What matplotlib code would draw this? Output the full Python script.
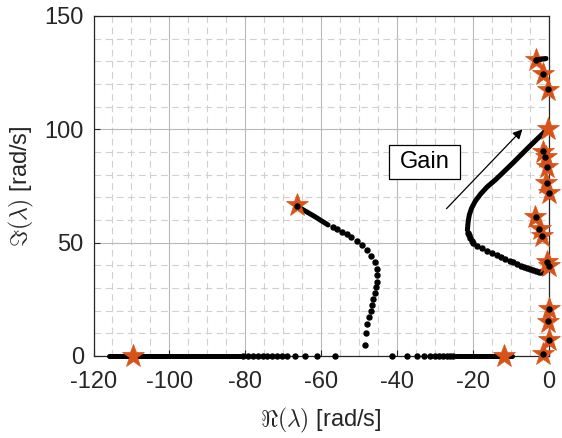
import matplotlib
matplotlib.use("Agg")
import matplotlib.pyplot as plt
from matplotlib.patches import Rectangle

plt.rcParams['font.family'] = ['Liberation Sans', 'DejaVu Sans']
plt.rcParams['mathtext.fontset'] = 'cm'
plt.rcParams['axes.unicode_minus'] = False

# ---------------- data ----------------
# real-axis branch, left part: dense run (drawn as thick path) + sparse dots
real_left_dense_x = [-115.8, -81.5]
real_left_dots_x = [-80.5, -79.2, -77.9, -76.6, -75.3, -74.2, -72.9, -71.6,
                    -70.4, -69.1, -66.9, -64.3, -61.0, -56.4]
# real-axis branch, right part
real_right_dots_x = [-41.4, -37.5, -34.9, -32.9, -31.4, -30.0, -28.9, -27.9,
                     -27.0, -26.1, -25.2]
real_right_dense_x = [-24.5, -9.8]

# complex branch leaving the real axis near -48 towards the star at (-66.5, 66)
branchB_dense_x = [-66.5, -61.7, -58.2]
branchB_dense_y = [66.2, 61.5, 57.8]
branchB_dots_x = [-57.0, -55.8, -54.6, -53.3, -52.2, -50.7, -49.3, -48.0, -46.9,
                  -45.8, -45.4, -45.3, -45.3, -45.6, -45.8, -46.3, -46.7, -47.0,
                  -47.4, -47.9, -48.2, -48.6]
branchB_dots_y = [57.0, 55.9, 54.8, 53.7, 52.4, 50.7, 49.0, 46.6, 44.1,
                  41.5, 38.4, 35.6, 32.6, 30.3, 27.7, 25.1, 22.5, 19.9,
                  17.1, 14.0, 10.3, 4.9]

# C-shaped branch ending at (0, 100)
branchC_dense_x = [-0.2, -1.1, -5.3, -9.6, -12.2, -14.2, -16.3, -18.0, -19.4,
                   -20.4, -21.0, -21.3, -21.5]
branchC_dense_y = [99.7, 99.0, 92.2, 85.0, 80.8, 77.6, 74.6, 71.5, 68.4,
                   65.2, 62.2, 59.2, 55.6]
branchC_dots_x = [-21.4, -21.2, -20.8, -20.3, -19.9, -18.9, -17.7, -16.4, -15.1,
                  -13.8, -12.6, -11.5, -10.4, -9.4, -8.4, -7.5, -6.6, -5.7,
                  -4.9, -4.1, -3.4, -2.7, -2.1]
branchC_dots_y = [54.4, 53.2, 51.9, 50.7, 49.7, 48.5, 47.5, 46.5, 45.6,
                  44.6, 43.6, 42.7, 42.0, 41.3, 40.6, 39.9, 39.4, 38.8,
                  38.4, 37.9, 37.6, 37.2, 36.9]

# short dense run at the top
top_dense_x = [-3.4, -0.8]
top_dense_y = [130.6, 131.2]

# star markers
star_x = [-109.5, -11.8, -66.5, -3.3, -1.5, -0.35, -0.3, -1.7, -0.8, -0.5, -0.8,
          -0.1, -3.7, -2.4, -1.9, -0.6, -0.1, -0.1, -0.2, -0.1, -1.5]
star_y = [0.0, 0.0, 66.4, 130.6, 124.2, 117.5, 100.0, 90.2, 87.9, 83.5, 76.5,
          71.8, 61.2, 55.9, 52.9, 41.6, 39.5, 20.6, 15.2, 6.9, 0.9]

# dots that sit on top of the stars
top_dots_x = [-66.5, -3.4, -1.7, -0.35, -1.7, -1.1, -0.6, -0.6, 0.0, -3.5, -2.6,
              -1.9, -0.6, 0.0, 0.0, -0.2, 0.0, -1.5]
top_dots_y = [66.2, 130.6, 124.4, 117.7, 90.4, 87.9, 83.5, 76.5, 71.8, 61.2, 56.0,
              52.9, 41.6, 39.7, 20.6, 15.4, 7.1, 0.9]

x_ticks = [-120, -100, -80, -60, -40, -20, 0]
y_ticks = [0, 50, 100, 150]

# ---------------- figure ----------------
fig = plt.figure(figsize=(5.62, 4.38), dpi=100)
ax = fig.add_axes([93.5 / 562, 82 / 438, 455.5 / 562, 340 / 438])

ax.set_xlim(-120, 0)
ax.set_ylim(0, 150)
ax.set_xticks(x_ticks)
ax.set_yticks(y_ticks)
ax.set_xticks(range(-120, 1, 5), minor=True)
ax.set_yticks(range(0, 151, 10), minor=True)

ax.grid(which='major', color='#b8b8b8', linewidth=0.8, linestyle='-')
ax.grid(which='minor', color='#d0d0d0', linewidth=0.8, linestyle=(0, (6, 4)))
ax.set_axisbelow(True)

dark = '#262626'
for s in ax.spines.values():
    s.set_color(dark)
    s.set_linewidth(0.9)
ax.tick_params(which='major', direction='in', length=4, width=0.8, color=dark,
               labelsize=17, labelcolor=dark)
ax.tick_params(which='minor', length=0)
ax.tick_params(axis='x', pad=11)
ax.tick_params(axis='y', pad=7)

ax.set_xlabel(r'$\Re(\lambda)$ [rad/s]', fontsize=17, color=dark, labelpad=9)
ax.set_ylabel(r'$\Im(\lambda)$ [rad/s]', fontsize=17, color=dark, labelpad=6)

dot = dict(color='black', marker='o', markersize=3.6, linestyle='none', clip_on=False)
thick = dict(color='black', linewidth=3.6, solid_capstyle='round',
             solid_joinstyle='round', clip_on=False)
star_col = '#D95319'

# real axis
ax.plot(real_left_dense_x, [0] * len(real_left_dense_x), zorder=3, **thick)
ax.plot(real_left_dots_x, [0] * len(real_left_dots_x), zorder=3, **dot)
ax.plot(real_right_dense_x, [0] * len(real_right_dense_x), zorder=3, **thick)
ax.plot(real_right_dots_x, [0] * len(real_right_dots_x), zorder=3, **dot)

# complex branches
ax.plot(branchB_dense_x, branchB_dense_y, zorder=3, **thick)
ax.plot(branchB_dots_x, branchB_dots_y, zorder=3, **dot)
ax.plot(branchC_dense_x, branchC_dense_y, zorder=3, **thick)
ax.plot(branchC_dots_x, branchC_dots_y, zorder=3, **dot)

# stars
ax.plot(star_x, star_y, linestyle='none', marker='*', markersize=17,
        markerfacecolor=star_col, markeredgecolor=star_col, markeredgewidth=0.5,
        clip_on=False, zorder=4)

# dots on top
ax.plot(top_dense_x, top_dense_y, zorder=5, **thick)
ax.plot(top_dots_x, top_dots_y, zorder=5, **dot)

# gain annotation
ax.annotate('', xy=(-7, 100), xytext=(-27, 65),
            arrowprops=dict(arrowstyle='-|>', color='black', lw=0.9,
                            mutation_scale=14, shrinkA=0, shrinkB=0),
            zorder=6)
ax.add_patch(Rectangle((-42.1, 78.0), 18.65, 15.1, facecolor='white',
                       edgecolor='black', linewidth=0.9, zorder=6))
ax.text(-32.8, 85.5, 'Gain', fontsize=17, ha='center', va='center',
        color='black', zorder=7)

fig.savefig('out.png', dpi=100)
